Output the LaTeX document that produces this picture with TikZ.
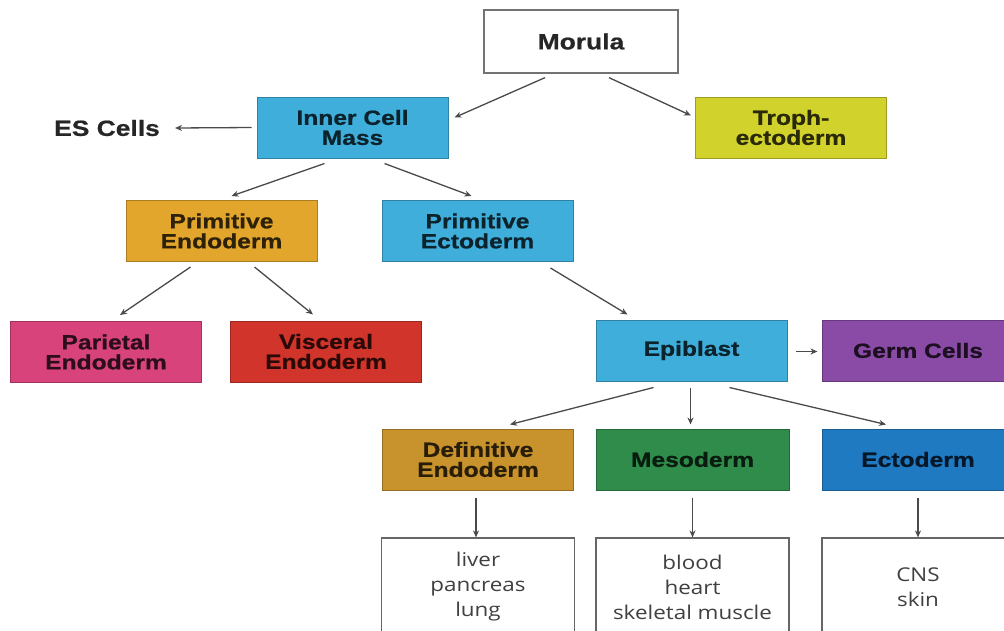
\documentclass[tikz,border=0pt]{standalone}
\usepackage{fontspec}
\usetikzlibrary{calc,arrows.meta}
\newfontfamily\labfont[FakeStretch=1.2,BoldFeatures={FakeBold=0.7}]{Liberation Sans}
\newfontfamily\organfont[FakeStretch=1.18]{Open Sans}
\definecolor{cblue}{HTML}{3FAEDB}
\definecolor{cyel}{HTML}{D2D22C}
\definecolor{corange}{HTML}{E3A62C}
\definecolor{cpink}{HTML}{D8437C}
\definecolor{cred}{HTML}{D0342A}
\definecolor{cpurple}{HTML}{8A4BA6}
\definecolor{cgold}{HTML}{C8922C}
\definecolor{cgreen}{HTML}{2F8C4A}
\definecolor{cdblue}{HTML}{1F7AC2}
\definecolor{lineg}{HTML}{4A4A4A}
\tikzset{
  cbox/.style={draw=#1!75!black, line width=1pt, fill=#1, minimum width=191pt, minimum height=61pt,
    inner sep=0pt, align=center, text=#1!20!black,
    font=\labfont\bfseries\fontsize{20.5}{20}\selectfont},
  wbox/.style={draw=black!60, line width=1.2pt, fill=white, minimum width=193pt, minimum height=98pt,
    inner sep=0pt, align=center, text=black!75,
    font=\organfont\fontsize{19}{25}\selectfont},
  arr/.style={draw=lineg, line width=1.3pt, -{Stealth[length=7pt,width=6pt]}}
}
\begin{document}
\begin{tikzpicture}[x=1pt,y=-1pt]
\clip (0,0) rectangle (1004,630);
\fill[white] (0,0) rectangle (1004,630);
% nodes
\node[draw=black!55, line width=1.3pt, fill=white, minimum width=194pt, minimum height=63pt, inner sep=0pt,
  text=black!85, font=\labfont\bfseries\fontsize{22}{20}\selectfont] (morula) at (581,41.5) {Morula};
\node[cbox=cblue] (icm) at (352.5,127.5) {Inner Cell\\Mass};
\node[text=black!85, inner sep=0pt, font=\labfont\bfseries\fontsize{22}{20}\selectfont] (es) at (107,128) {ES Cells};
\node[cbox=cyel] (troph) at (791,127.5) {Troph-\\ectoderm};
\node[cbox=corange] (pendo) at (221.5,231) {Primitive\\Endoderm};
\node[cbox=cblue] (pecto) at (477.5,231) {Primitive\\Ectoderm};
\node[cbox=cpink] (pari) at (106,352) {Parietal\\Endoderm};
\node[cbox=cred] (visc) at (326,351.5) {Visceral\\Endoderm};
\node[cbox=cblue] (epi) at (691.5,350.5) {Epiblast};
\node[cbox=cpurple, minimum width=192pt] (germ) at (918,350.5) {Germ Cells};
\node[cbox=cgold] (dendo) at (478,459.5) {Definitive\\Endoderm};
\node[cbox=cgreen, minimum width=193pt] (meso) at (692.5,459.5) {Mesoderm};
\node[cbox=cdblue, minimum width=192pt] (ecto) at (918,459.5) {Ectoderm};
\node[wbox] (liver) at (478,587) {liver\\pancreas\\lung};
\node[wbox] (blood) at (692.5,587) {blood\\heart\\skeletal muscle};
\node[wbox, minimum width=192pt] (cns) at (918,587) {CNS\\skin};
% connectors
\draw[arr] ($(morula.south)+(-36,4)$) -- ($(icm.east)+(6,-10)$);
\draw[arr] ($(morula.south)+(28,4)$) -- ($(troph.west)+(-4,-12)$);
\draw[arr] ($(icm.west)+(-5,0)$) -- ($(es.east)+(15,0)$);
\draw[arr] ($(icm.south)+(-28,5)$) -- ($(pendo.north)+(10,-4)$);
\draw[arr] ($(icm.south)+(32,5)$) -- ($(pecto.north)+(-6,-4)$);
\draw[arr] ($(pendo.south)+(-31,5)$) -- ($(pari.north)+(14,-6)$);
\draw[arr] ($(pendo.south)+(33,5)$) -- ($(visc.north)+(-13,-6)$);
\draw[arr] ($(pecto.south)+(73,6)$) -- ($(epi.north)+(-64,-5)$);
\draw[arr] ($(epi.east)+(8,1)$) -- ($(germ.west)+(-4,1)$);
\draw[arr] ($(epi.south)+(-38,6)$) -- ($(dendo.north)+(32,-4)$);
\draw[arr] ($(epi.south)+(-1,6)$) -- ($(meso.north)+(-2,-4)$);
\draw[arr] ($(epi.south)+(38,6)$) -- ($(ecto.north)+(-32,-4)$);
\draw[arr] ($(dendo.south)+(-2,7)$) -- ($(liver.north)+(-2,0)$);
\draw[arr] ($(meso.south)+(0,7)$) -- (blood.north);
\draw[arr] ($(ecto.south)+(0,7)$) -- (cns.north);
\end{tikzpicture}
\end{document}
